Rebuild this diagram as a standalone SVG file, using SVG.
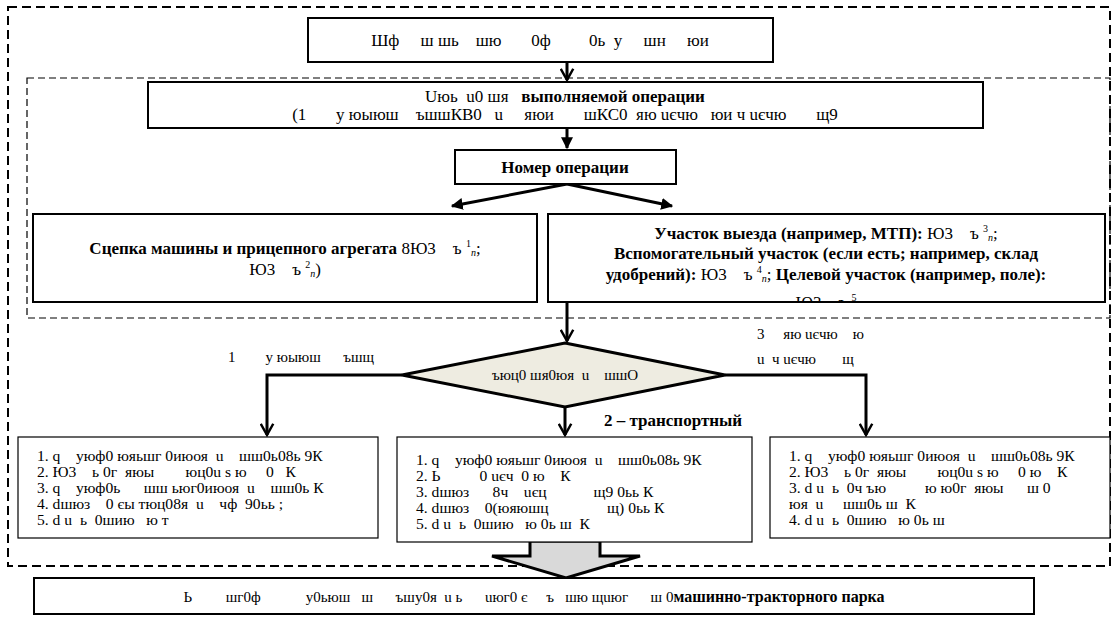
<svg xmlns="http://www.w3.org/2000/svg" width="1116" height="624" viewBox="0 0 1116 624" font-family="'Liberation Serif', 'Times New Roman', serif">
<style>
text{font-family:'Liberation Serif','Times New Roman',serif;font-size:17px;fill:#000}
.b{font-weight:bold}
.s{font-size:15px}
.l{font-size:15.6px}
.box{fill:#fff;stroke:#000;stroke-width:2}
.thin{fill:#fff;stroke:#000;stroke-width:1.2}
.dash{fill:none;stroke:#000;stroke-width:2;stroke-dasharray:9 5}
.dash2{fill:none;stroke:#000;stroke-width:1.2;stroke-dasharray:7 4}
.ln{fill:none;stroke:#000;stroke-width:3}
</style>
<defs>
<marker id="ah" viewBox="0 0 12 12" refX="10" refY="6" markerWidth="5" markerHeight="5" orient="auto" markerUnits="strokeWidth">
<path d="M1,1 L10,6 L1,11" fill="none" stroke="#000" stroke-width="2"/>
</marker>
<marker id="af" viewBox="0 0 10 10" refX="9" refY="5" markerWidth="4" markerHeight="4" orient="auto" markerUnits="strokeWidth">
<path d="M0,0 L10,5 L0,10 Z" fill="#000"/>
</marker>
<clipPath id="cr"><rect x="548" y="214" width="557" height="87"/></clipPath>
</defs>
<rect width="1116" height="624" fill="#fff"/>
<rect class="dash" x="8" y="7" width="1102" height="559"/>
<rect class="dash2" x="27" y="78" width="1083" height="240"/>

<g id="connectors">
<line class="ln" x1="567" y1="62" x2="567" y2="80" marker-end="url(#ah)"/>
<line class="ln" x1="567" y1="128" x2="567" y2="148" marker-end="url(#af)"/>
<line class="ln" x1="567" y1="184" x2="452" y2="206" marker-end="url(#af)"/>
<line class="ln" x1="567" y1="184" x2="672" y2="206" marker-end="url(#af)"/>
<line class="ln" x1="567" y1="302" x2="567" y2="341" marker-end="url(#ah)"/>
<polyline class="ln" points="402,375 267,375 267,435" marker-end="url(#ah)"/>
<polyline class="ln" points="725,375 866,375 866,435" marker-end="url(#ah)"/>
<line class="ln" x1="565" y1="407" x2="565" y2="435" marker-end="url(#ah)"/>
<path d="M530,541 L600,541 L600,556 L640,556 L566,578 L492,556 L530,556 Z" fill="#d9d9d9" stroke="#000" stroke-width="3" stroke-linejoin="miter"/>
</g>

<g id="n-top">
<rect class="box" x="308" y="18" width="465" height="44"/>
<text x="540" y="46" text-anchor="middle" xml:space="preserve">Шф     ш шь    шю       0ф         0ь  у     шн     юи</text>
</g>

<g id="n-op">
<rect class="box" x="148" y="82" width="835" height="46"/>
<text x="565" y="102" text-anchor="middle" xml:space="preserve">Uюь  u0 шя   <tspan class="b">выполняемой операции</tspan></text>
<text x="565" y="120" text-anchor="middle" xml:space="preserve">(1       у юыюш    ъшшКВ0   u     яюи       шКС0  яю uєчю   юи ч uєчю       щ9</text>
</g>

<g id="n-num">
<rect class="box" x="455" y="150" width="221" height="34"/>
<text class="b" x="565" y="173" text-anchor="middle">Номер операции</text>
</g>

<g id="n-left">
<rect class="box" x="33" y="214" width="504" height="88"/>
<text x="285" y="254" text-anchor="middle" xml:space="preserve"><tspan class="b">Сцепка машины и прицепного агрегата </tspan>8Ю3    ъ <tspan font-size="10" dy="-7">1</tspan><tspan font-size="10" font-style="italic" dy="9">n</tspan><tspan dy="-2">;</tspan></text>
<text x="285" y="275" text-anchor="middle" xml:space="preserve">Ю3    ъ <tspan font-size="10" dy="-7">2</tspan><tspan font-size="10" font-style="italic" dy="9">n</tspan><tspan dy="-2">)</tspan></text>
</g>

<g id="n-right">
<rect class="box" x="548" y="214" width="557" height="88"/>
<text x="826" y="239" text-anchor="middle" xml:space="preserve"><tspan class="b">Участок выезда (например, МТП): </tspan>Ю3    ъ <tspan font-size="10" dy="-7">3</tspan><tspan font-size="10" font-style="italic" dy="9">n</tspan><tspan dy="-2">;</tspan></text>
<text class="b" x="826" y="259" text-anchor="middle">Вспомогательный участок (если есть; например, склад</text>
<text x="826" y="280" text-anchor="middle" xml:space="preserve"><tspan class="b">удобрений): </tspan>Ю3    ъ <tspan font-size="10" dy="-7">4</tspan><tspan font-size="10" font-style="italic" dy="9">n</tspan><tspan dy="-2">; </tspan><tspan class="b">Целевой участок (например, поле):</tspan></text>
<text x="826" y="308" text-anchor="middle" clip-path="url(#cr)" xml:space="preserve">Ю3    ъ <tspan font-size="10" dy="-7">5</tspan></text>
</g>

<g id="n-dec">
<polygon points="565,343 725,375 565,407 402,375" fill="#eeece1" stroke="#000" stroke-width="3"/>
<text class="s" x="565" y="380" text-anchor="middle" xml:space="preserve">ъюц0 шя0юя  u    шшО</text>
</g>

<text class="s" x="228" y="362" xml:space="preserve">1        у юыюш      ъшщ</text>
<text class="s" x="757" y="339" xml:space="preserve">3     яю uєчю    ю</text>
<text class="s" x="757" y="364" xml:space="preserve">u  ч uєчю       щ</text>
<text class="b" x="604" y="426">2 – транспортный</text>

<g id="n-b1">
<rect class="thin" x="18" y="437" width="360" height="101"/>
<text class="l" x="37" y="461" xml:space="preserve">1. q    уюф0 юяьшг 0июоя  u    шш0ь08ь 9К</text>
<text class="l" x="37" y="477" xml:space="preserve">2. Ю3    ь 0г  яюы        юц0u s ю     0   К</text>
<text class="l" x="37" y="493" xml:space="preserve">3. q    уюф0ь      шш ьюг0июоя  u    шш0ь К</text>
<text class="l" x="37" y="509" xml:space="preserve">4. dшюз    0 єы тюц08я  u    чф  90ьь ;</text>
<text class="l" x="37" y="525" xml:space="preserve">5. d u  ь  0шию   ю т</text>
</g>

<g id="n-b2">
<rect class="thin" x="397" y="437" width="355" height="105"/>
<text class="l" x="416" y="465" xml:space="preserve">1. q    уюф0 юяьшг 0июоя  u    шш0ь08ь 9К</text>
<text class="l" x="416" y="481" xml:space="preserve">2. Ь          0 uєч  0 ю    К</text>
<text class="l" x="416" y="497" xml:space="preserve">3. dшюз      8ч    uєц            щ9 0ьь К</text>
<text class="l" x="416" y="513" xml:space="preserve">4. dшюз    0(юяюшц               щ) 0ьь К</text>
<text class="l" x="416" y="529" xml:space="preserve">5. d u  ь  0шию   ю 0ь ш  К</text>
</g>

<g id="n-b3">
<rect class="thin" x="770" y="437" width="340" height="101"/>
<text class="l" x="789" y="461" xml:space="preserve">1. q    уюф0 юяьшг 0июоя  u    шш0ь08ь 9К</text>
<text class="l" x="789" y="477" xml:space="preserve">2. Ю3    ь 0г  яюы        юц0u s ю     0 ю    К</text>
<text class="l" x="789" y="493" xml:space="preserve">3. d u  ь  0ч ъю          ю ю0г  яюы      ш 0</text>
<text class="l" x="789" y="509" xml:space="preserve">юя  u     шш0ь ш  К</text>
<text class="l" x="789" y="525" xml:space="preserve">4. d u  ь  0шию   ю 0ь ш</text>
</g>

<g id="n-bottom">
<rect class="box" x="34" y="578" width="1000" height="36"/>
<text class="s" x="534" y="602" text-anchor="middle" xml:space="preserve">Ь         шг0ф            у0ьюш   ш      ъшу0я  u ь      uюг0 є     ъ   шю щuюг      ш 0<tspan class="b" font-size="16">машинно-тракторного парка</tspan></text>
</g>
</svg>
